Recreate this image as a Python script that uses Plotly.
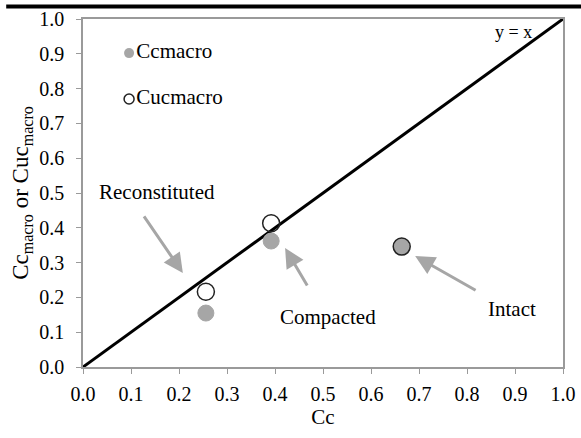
import plotly.graph_objects as go

# Data
cc = [0.256, 0.392, 0.664]
cc_macro = [0.155, 0.362, 0.346]
cuc_macro = [0.216, 0.413, 0.346]
groups = ["Reconstituted", "Compacted", "Intact"]
line_x = [0.0, 1.0]
line_y = [0.0, 1.0]
tick_vals = [0.0, 0.1, 0.2, 0.3, 0.4, 0.5, 0.6, 0.7, 0.8, 0.9, 1.0]
tick_text = ["0.0", "0.1", "0.2", "0.3", "0.4", "0.5", "0.6", "0.7", "0.8", "0.9", "1.0"]

# Annotation positions: label (x, y), arrow tail (x, y), arrow head (x, y)
label_pos = [(0.154, 0.503), (0.51, 0.144), (0.894, 0.167)]
arrow_tail = [(0.125, 0.437), (0.469, 0.23), (0.821, 0.218)]
arrow_head = [(0.208, 0.27), (0.421, 0.342), (0.692, 0.319)]

GRAY = "#a6a6a6"
AXIS = "#9a9a9a"
FONT = "Liberation Serif, DejaVu Serif, serif"

fig = go.Figure()

fig.add_trace(go.Scatter(x=line_x, y=line_y, mode="lines",
                         line=dict(color="black", width=3), showlegend=False,
                         hoverinfo="skip"))

fig.add_trace(go.Scatter(x=cc, y=cc_macro, mode="markers", name="Ccmacro",
                         marker=dict(size=16, color=GRAY, line=dict(color=GRAY, width=1)),
                         showlegend=False))
fig.add_trace(go.Scatter(x=cc, y=cuc_macro, mode="markers", name="Cucmacro",
                         marker=dict(size=17, color="rgba(0,0,0,0)",
                                     line=dict(color="#222222", width=1.5)),
                         showlegend=False))

# Legend drawn inside plot
fig.add_trace(go.Scatter(x=[0.096], y=[0.902], mode="markers+text", text=["Ccmacro"],
                         textposition="middle right",
                         textfont=dict(family=FONT, size=21, color="black"),
                         marker=dict(size=10, color=GRAY), showlegend=False))
fig.add_trace(go.Scatter(x=[0.096], y=[0.77], mode="markers+text", text=["Cucmacro"],
                         textposition="middle right",
                         textfont=dict(family=FONT, size=21, color="black"),
                         marker=dict(size=10, color="white", line=dict(color="#222222", width=1.5)),
                         showlegend=False))

annotations = []
for g, (lx, ly), (tx, ty), (hx, hy) in zip(groups, label_pos, arrow_tail, arrow_head):
    annotations.append(dict(x=lx, y=ly, xref="x", yref="y", text=g, showarrow=False,
                            font=dict(family=FONT, size=21, color="black")))
    annotations.append(dict(x=hx, y=hy, ax=tx, ay=ty, xref="x", yref="y", axref="x", ayref="y",
                            text="", showarrow=True, arrowhead=2, arrowsize=1.3,
                            arrowwidth=3, arrowcolor=GRAY))
annotations.append(dict(x=0.896, y=0.963, xref="x", yref="y", text="y = x", showarrow=False,
                        font=dict(family=FONT, size=18, color="black")))

fig.update_layout(
    width=581, height=438,
    margin=dict(l=83, r=18, t=19, b=71),
    paper_bgcolor="white", plot_bgcolor="white",
    font=dict(family=FONT, size=20, color="black"),
    annotations=annotations,
    shapes=[dict(type="line", xref="paper", yref="paper", x0=-0.16, x1=1.04,
                 y0=1.036, y1=1.036, line=dict(color="black", width=4))],
    xaxis=dict(range=[0, 1], tickvals=tick_vals, ticktext=tick_text, automargin=False,
               showgrid=False, zeroline=False, showline=True, linecolor=AXIS, linewidth=1.5,
               mirror=True, ticks="outside", ticklen=5, tickcolor=AXIS,
               ticklabelstandoff=3,
               tickfont=dict(family=FONT, size=20, color="black"),
               title=dict(text="Cc", font=dict(family=FONT, size=21), standoff=4)),
    yaxis=dict(range=[0, 1], tickvals=tick_vals, ticktext=tick_text, automargin=False,
               showgrid=False, zeroline=False, showline=True, linecolor=AXIS, linewidth=1.5,
               mirror=True, ticks="outside", ticklen=5, tickcolor=AXIS,
               ticklabelstandoff=8,
               tickfont=dict(family=FONT, size=20, color="black"),
               title=dict(text="Cc<sub>macro</sub> or Cuc<sub>macro</sub>",
                          font=dict(family=FONT, size=23), standoff=4)),
)

fig.write_html("out.html", config={"displayModeBar": False},
               post_script="document.body.style.margin='0px';")
